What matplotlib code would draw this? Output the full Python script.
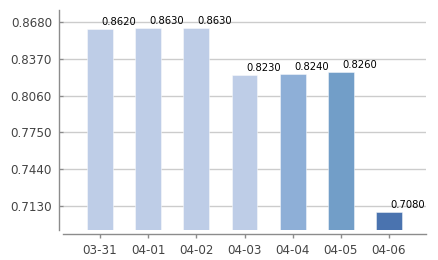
import matplotlib
matplotlib.use("Agg")
import matplotlib.pyplot as plt
import numpy as np

# --- data ---
dates = ["03-31", "04-01", "04-02", "04-03", "04-04", "04-05", "04-06"]
values = [0.8620, 0.8630, 0.8630, 0.8230, 0.8240, 0.8260, 0.7080]
bar_colors = ["#BECDE7", "#BECDE7", "#BECDE7", "#BECDE7",
              "#8EAFD7", "#729EC8", "#4A73AF"]
yticks = [0.7130, 0.7440, 0.7750, 0.8060, 0.8370, 0.8680]

fig = plt.figure(figsize=(4.38, 2.60), dpi=100)
ax = fig.add_axes([63 / 438, 1 - 230 / 260, 363 / 438, 220 / 260])

x = np.arange(len(dates))
ax.bar(x, values, width=0.54, color=bar_colors,
       edgecolor=(1, 1, 1, 0.45), linewidth=0.7, zorder=3)

for xi, v in zip(x, values):
    ax.annotate(f"{v:.4f}", (xi, v), xytext=(1, 1.5), textcoords="offset points",
                ha="left", va="bottom", fontsize=7.2, color="black",
                family=["DejaVu Sans"], zorder=4)

ax.set_xlim(-0.77, 6.77)
ax.set_ylim(0.6928, 0.8781)
ax.set_yticks(yticks)
ax.set_yticklabels([f"{t:.4f}" for t in yticks])
ax.set_xticks(x)
ax.set_xticklabels(dates)

ax.yaxis.grid(True, color="#CCCCCC", linewidth=1.0, zorder=0)
ax.set_axisbelow(True)

for side in ("top", "right"):
    ax.spines[side].set_visible(False)
for side in ("left", "bottom"):
    ax.spines[side].set_color("#8C8C8C")
    ax.spines[side].set_linewidth(1.0)
ax.spines["left"].set_position(("outward", 3))
ax.spines["bottom"].set_position(("outward", 3))

ax.tick_params(axis="y", direction="in", length=3, width=1, color="#8C8C8C",
               labelsize=8.6, labelcolor="#444444", pad=5)
ax.tick_params(axis="x", direction="out", length=3, width=1, color="#8C8C8C",
               labelsize=8.6, labelcolor="#444444", pad=4)

fig.savefig("out.png", dpi=100)
plt.close(fig)
